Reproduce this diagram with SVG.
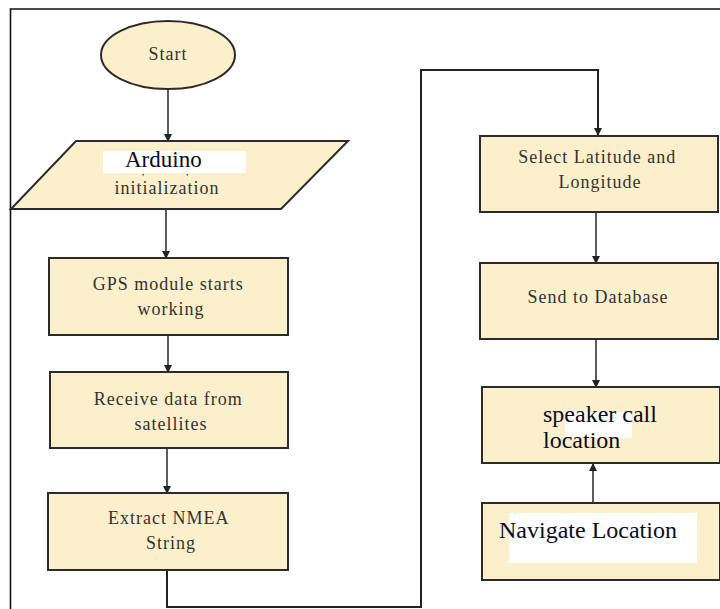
<svg xmlns="http://www.w3.org/2000/svg" width="720" height="609" viewBox="0 0 720 609">
  <defs>
    <marker id="arrow" markerWidth="8" markerHeight="8" refX="7" refY="4" orient="auto" markerUnits="userSpaceOnUse">
      <path d="M0,0 L8,4 L0,8 Z" fill="#222222"/>
    </marker>
  </defs>

  <rect width="720" height="609" fill="#ffffff"/>
  <!-- outer page border -->
  <path d="M10.5,609 L10.5,9 L720,9" fill="none" stroke="#111" stroke-width="1.6"/>

  <g id="connectors" fill="none" stroke="#333333" stroke-width="1.6">
    <line x1="168" y1="89" x2="168" y2="141" marker-end="url(#arrow)"/>
    <line x1="166" y1="209" x2="166" y2="258" marker-end="url(#arrow)"/>
    <line x1="168" y1="335" x2="168" y2="372" marker-end="url(#arrow)"/>
    <line x1="167" y1="448" x2="167" y2="493" marker-end="url(#arrow)"/>
    <path d="M167,570 L167,607 L421,607 L421,70 L598,70 L598,135" stroke="#222222" stroke-width="2" marker-end="url(#arrow)"/>
    <line x1="596" y1="212" x2="596" y2="263" marker-end="url(#arrow)"/>
    <line x1="596" y1="339" x2="596" y2="387" marker-end="url(#arrow)"/>
    <line x1="593" y1="503" x2="593" y2="464" marker-end="url(#arrow)"/>
  </g>

  <!-- shared looks for nodes: pale fill, dark outline; Times-like labels -->
  <g fill="#fcefcc" stroke="#2b2b2b" stroke-width="2">
    <g id="start">
      <ellipse cx="168" cy="55" rx="67" ry="34"/>
      <text x="168" y="60" font-family="Liberation Serif" font-size="18" fill="#333333" stroke="none" letter-spacing="1" text-anchor="middle">Start</text>
    </g>

    <g id="arduino-init">
      <polygon points="76,141 348,141 281,209 11,209"/>
      <rect x="103" y="151" width="143" height="22" fill="#ffffff" stroke="none"/>
      <rect x="142.5" y="174" width="1.5" height="1.5" fill="#555" stroke="none"/>
      <rect x="186.5" y="174" width="1.5" height="1.5" fill="#555" stroke="none"/>
      <text x="125" y="167" font-family="Liberation Serif" font-size="23" fill="#0b0b1e" stroke="none">Arduino</text>
      <text x="167" y="194" font-family="Liberation Serif" font-size="18" fill="#333333" stroke="none" letter-spacing="1" text-anchor="middle">initialization</text>
    </g>

    <g id="gps-module">
      <rect x="49" y="258" width="239" height="77"/>
      <text font-family="Liberation Serif" font-size="18" fill="#333333" stroke="none" letter-spacing="1" text-anchor="middle">
        <tspan x="171" y="290">GPS module starts</tspan>
        <tspan x="171" y="315">working</tspan>
      </text>
    </g>

    <g id="receive-data">
      <rect x="50" y="372" width="238" height="76"/>
      <text font-family="Liberation Serif" font-size="18" fill="#333333" stroke="none" letter-spacing="1" text-anchor="middle">
        <tspan x="171" y="405">Receive data from</tspan>
        <tspan x="171" y="430">satellites</tspan>
      </text>
    </g>

    <g id="extract-nmea">
      <rect x="48" y="493" width="240" height="77"/>
      <text font-family="Liberation Serif" font-size="18" fill="#333333" stroke="none" letter-spacing="1" text-anchor="middle">
        <tspan x="171" y="524">Extract NMEA</tspan>
        <tspan x="171" y="549">String</tspan>
      </text>
    </g>

    <g id="select-latlon">
      <rect x="480" y="136" width="238" height="76"/>
      <text font-family="Liberation Serif" font-size="18" fill="#333333" stroke="none" letter-spacing="1" text-anchor="middle">
        <tspan x="600" y="163">Select Latitude and</tspan>
        <tspan x="600" y="188">Longitude</tspan>
      </text>
    </g>

    <g id="send-database">
      <rect x="480" y="263" width="238" height="76"/>
      <text x="598" y="303" font-family="Liberation Serif" font-size="18" fill="#333333" stroke="none" letter-spacing="1" text-anchor="middle">Send to Database</text>
    </g>

    <g id="speaker-call">
      <rect x="482" y="387" width="238" height="76"/>
      <rect x="565" y="412" width="67" height="26" fill="#ffffff" stroke="none"/>
      <text font-family="Liberation Serif" font-size="24" fill="#0b0b1e" stroke="none">
        <tspan x="543" y="422">speaker call</tspan>
        <tspan x="543" y="448">location</tspan>
      </text>
    </g>

    <g id="navigate-location">
      <rect x="482" y="503" width="238" height="77"/>
      <rect x="509" y="513" width="188" height="50" fill="#ffffff" stroke="none"/>
      <text x="499" y="538" font-family="Liberation Serif" font-size="24" fill="#0b0b1e" stroke="none">Navigate Location</text>
    </g>
  </g>
</svg>
